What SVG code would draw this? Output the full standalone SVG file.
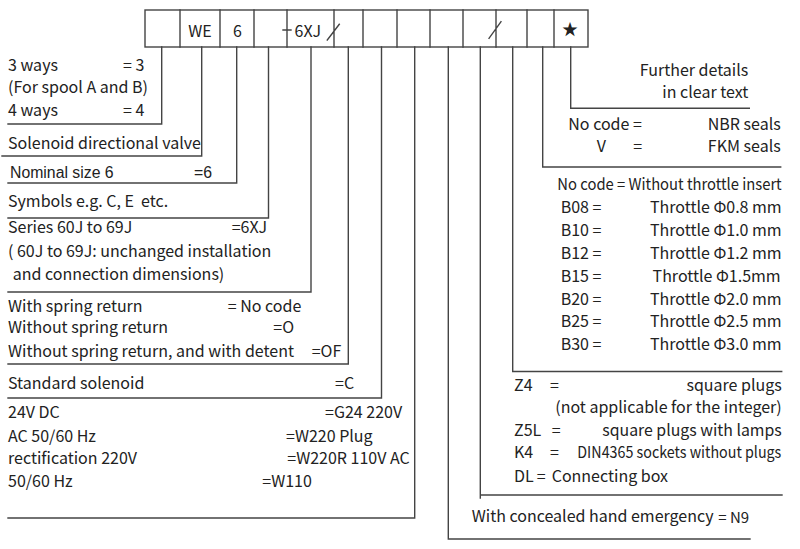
<svg xmlns="http://www.w3.org/2000/svg" width="800" height="549" viewBox="0 0 800 549">
<style>
.ln{fill:none;stroke:#444;stroke-width:1.4;stroke-linecap:square}
text{font-family:"Noto Sans CJK SC","Source Sans Pro","Liberation Sans",sans-serif;font-size:16px;fill:#222}
.ar{font-family:"Liberation Sans",Arial,sans-serif;font-size:15.8px}
.e{text-anchor:end}
.m{text-anchor:middle}
.pre{white-space:pre}
</style>
<rect width="800" height="549" fill="#fff"/>
<g id="code-boxes">
<rect class="ln" x="145" y="10" width="443" height="37"/>
<path class="ln" d="M180 10V47M220 10V47M254 10V47M363 10V47M397 10V47M430 10V47M463 10V47M527 10V47M554 10V47"/>
<path class="ln" d="M287 10V47M283 30H291M334 10V47M327.3 40L339.3 24.3M496 10V47M489 38.3L501 21.7"/>
<text class="m" x="200" y="36.5">WE</text>
<text class="m" x="237.5" y="36.5">6</text>
<text x="294.5" y="36.5">6XJ</text>
<text class="m" x="570" y="35">★</text>
</g>
<g id="connectors">
<path class="ln" d="M161.7 47V124H8"/>
<path class="ln" d="M201.7 47V156H2"/>
<path class="ln" d="M236.7 47V183H8"/>
<path class="ln" d="M268.5 47V218H8"/>
<path class="ln" d="M311 47V292H8"/>
<path class="ln" d="M348.3 47V364H8"/>
<path class="ln" d="M381.5 47V398H8"/>
<path class="ln" d="M414.7 47V518H8"/>
<path class="ln" d="M448.3 47V539H750"/>
<path class="ln" d="M480.3 47V498M480.3 495H782"/>
<path class="ln" d="M512.7 47V371.5H781.7"/>
<path class="ln" d="M542.7 47V167H780.7"/>
<path class="ln" d="M570.7 47V108.3H749.3"/>
</g>
<g id="n-ways">
<text x="8" y="70.7">3 ways</text><text x="123" y="70.7">= 3</text>
<text x="8" y="93.2">(For spool A and B)</text>
<text x="8" y="115.7">4 ways</text><text x="123" y="115.7">= 4</text>
</g>
<g id="n-valve"><text x="8" y="149.3">Solenoid directional valve</text></g>
<g id="n-size"><text class="ar" x="10" y="178.3">Nominal size 6</text><text class="ar" x="194" y="178.3">=6</text></g>
<g id="n-symbols"><text class="pre" x="8" y="206.7">Symbols e.g. C, E  etc.</text></g>
<g id="n-series">
<text x="8" y="233.3">Series 60J to 69J</text><text x="231.7" y="233.3">=6XJ</text>
<text x="8" y="256.7">( 60J to 69J: unchanged installation</text>
<text x="12.7" y="280">and connection dimensions)</text>
</g>
<g id="n-spring">
<text x="8" y="311.7">With spring return</text><text x="227.7" y="311.7">= No code</text>
<text x="8" y="333.3">Without spring return</text><text x="273.3" y="333.3">=O</text>
<text x="8" y="356.7">Without spring return, and with detent</text><text x="311.7" y="356.7">=OF</text>
</g>
<g id="n-solenoid"><text x="8" y="389.3">Standard solenoid</text><text x="335" y="389.3">=C</text></g>
<g id="n-voltage">
<text x="8" y="418.3">24V DC</text><text x="325" y="418.3">=G24 220V</text>
<text x="8" y="441.7">AC 50/60 Hz</text><text x="286" y="441.7">=W220 Plug</text>
<text x="8" y="464">rectification 220V</text><text x="287.3" y="464">=W220R 110V AC</text>
<text x="8" y="486.7">50/60 Hz</text><text x="262.3" y="486.7">=W110</text>
</g>
<g id="n-emergency"><text x="471.7" y="521.7">With concealed hand emergency</text><text x="718.3" y="523.3" style="font-size:15px">= N9</text></g>
<g id="n-electrical">
<text x="514" y="391">Z4</text><text x="550" y="391">=</text><text class="e" x="781.7" y="391">square plugs</text>
<text class="e" x="781.7" y="413.3">(not applicable for the integer)</text>
<text x="514" y="436">Z5L</text><text x="551.7" y="436">=</text><text x="602.3" y="436" textLength="179.4" lengthAdjust="spacingAndGlyphs">square plugs with lamps</text>
<text x="514" y="458.3">K4</text><text x="550" y="458.3">=</text><text x="577.3" y="458.3" textLength="204" lengthAdjust="spacingAndGlyphs">DIN4365 sockets without plugs</text>
<text x="514" y="481.7">DL</text><text x="536.7" y="481.7">=</text><text x="551.7" y="481.7">Connecting box</text>
</g>
<g id="n-throttle">
<text x="557.3" y="190" textLength="224.4" lengthAdjust="spacingAndGlyphs">No code = Without throttle insert</text>
<text x="560.7" y="213.3">B08 =</text><text class="e" x="781.7" y="213.3">Throttle Φ0.8 mm</text>
<text x="560.7" y="236.1">B10 =</text><text class="e" x="781.7" y="236.1">Throttle Φ1.0 mm</text>
<text x="560.7" y="258.9">B12 =</text><text class="e" x="781.7" y="258.9">Throttle Φ1.2 mm</text>
<text x="560.7" y="281.7">B15 =</text><text class="e" x="780.7" y="281.7">Throttle Φ1.5mm</text>
<text x="560.7" y="304.5">B20 =</text><text class="e" x="781.7" y="304.5">Throttle Φ2.0 mm</text>
<text x="560.7" y="327.3">B25 =</text><text class="e" x="781.7" y="327.3">Throttle Φ2.5 mm</text>
<text x="560.7" y="350">B30 =</text><text class="e" x="781.7" y="350">Throttle Φ3.0 mm</text>
</g>
<g id="n-seals">
<text x="568.3" y="130">No code =</text><text class="e" x="780.7" y="130">NBR seals</text>
<text x="596.7" y="151.7">V</text><text x="633.3" y="151.7">=</text><text class="e" x="780.7" y="151.7">FKM seals</text>
</g>
<g id="n-details">
<text class="e" x="748.3" y="76.3">Further details</text>
<text class="e" x="748.3" y="97.6">in clear text</text>
</g>
</svg>
